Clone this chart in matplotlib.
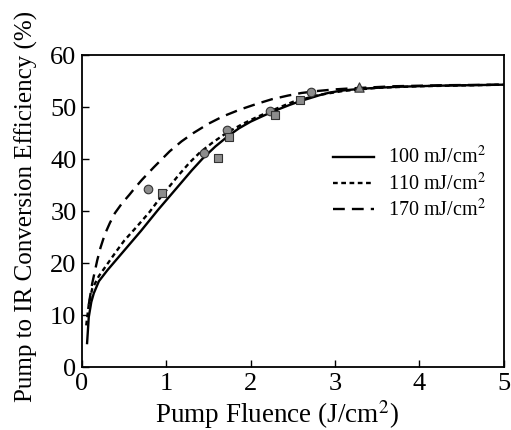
import matplotlib
matplotlib.use('Agg')
import matplotlib.pyplot as plt

plt.rcParams['font.family'] = ['Liberation Serif', 'DejaVu Serif']
plt.rcParams['mathtext.fontset'] = 'stix'

# Model curves for the three pump energies
fluence_100 = [0.06, 0.08, 0.11, 0.14, 0.2, 0.3, 0.4, 0.5, 0.6, 0.7, 0.8, 0.9,
               1.0, 1.1, 1.2, 1.3, 1.43, 1.58, 1.73, 1.86, 2.0, 2.12, 2.23,
               2.35, 2.46, 2.58, 2.7, 2.82, 2.94, 3.1, 3.3, 3.5, 3.75, 4.2, 5.0]
eff_100 = [4.6, 9.6, 12.5, 14.2, 16.5, 18.6, 20.5, 22.4, 24.3, 26.2, 28.2, 30.2,
           32.1, 34.0, 35.9, 37.8, 40.1, 42.4, 44.4, 45.9, 47.2, 48.1, 48.9,
           49.7, 50.4, 51.1, 51.7, 52.3, 52.8, 53.2, 53.5, 53.7, 53.9, 54.1, 54.3]

fluence_110 = [0.05, 0.08, 0.12, 0.2, 0.3, 0.4, 0.5, 0.65, 0.8, 0.92, 1.05, 1.15,
               1.28, 1.4, 1.55, 1.72, 1.91, 2.05, 2.23, 2.5, 2.8, 3.1, 3.5, 4.0, 5.0]
eff_110 = [8.0, 12.0, 15.0, 17.5, 19.8, 22.1, 24.3, 27.0, 29.8, 32.4, 35.0, 37.0,
           39.4, 41.3, 43.2, 45.1, 46.8, 47.9, 49.2, 51.0, 52.3, 53.1, 53.7, 54.0, 54.3]

fluence_170 = [0.08, 0.12, 0.18, 0.22, 0.27, 0.33, 0.39, 0.47, 0.56, 0.63, 0.71,
               0.85, 1.04, 1.18, 1.32, 1.5, 1.67, 1.87, 2.07, 2.25, 2.44, 2.6,
               2.8, 3.0, 3.2, 3.7, 4.3, 5.0]
eff_170 = [12.0, 16.0, 20.5, 23.0, 25.5, 27.7, 29.6, 31.4, 33.1, 34.5, 36.0,
           38.4, 41.5, 43.4, 45.0, 46.8, 48.2, 49.5, 50.6, 51.5, 52.2, 52.7,
           53.1, 53.4, 53.6, 54.0, 54.2, 54.3]

# Measured points
circ_x = [0.78, 1.44, 1.72, 2.23, 2.72]
circ_y = [34.2, 41.2, 45.6, 49.2, 52.9]
sq_x = [0.95, 1.61, 1.74, 2.29, 2.58]
sq_y = [33.5, 40.2, 44.2, 48.5, 51.3]
tri_x = [3.28]
tri_y = [53.8]

fig = plt.figure(figsize=(5.11, 4.30), dpi=100)
ax = fig.add_axes([0.1605, 0.1465, 0.8255, 0.7255])

ax.plot(fluence_100, eff_100, color='black', lw=1.7, ls='-', label='100 mJ/cm$^2$')
ax.plot(fluence_110, eff_110, color='black', lw=1.7, ls=(0, (2.0, 1.5)), label='110 mJ/cm$^2$')
ax.plot(fluence_170, eff_170, color='black', lw=1.7, ls=(0, (5, 3)), label='170 mJ/cm$^2$')

mk = dict(facecolor='#8c8c8c', edgecolor='#333333', linewidths=0.8, zorder=3)
ax.scatter(circ_x, circ_y, marker='o', s=38, **mk)
ax.scatter(sq_x, sq_y, marker='s', s=38, **mk)
ax.scatter(tri_x, tri_y, marker='^', s=45, **mk)

ax.set_xlim(0, 5)
ax.set_ylim(0, 60)
ax.set_xticks([0, 1, 2, 3, 4, 5])
ax.set_yticks([0, 10, 20, 30, 40, 50, 60])
ax.tick_params(direction='in', length=5, width=1, labelsize=19, pad=4)
for s in ax.spines.values():
    s.set_linewidth(1.3)

ax.set_xlabel('Pump Fluence (J/cm$^2$)', fontsize=19.5, va='baseline')
ax.xaxis.set_label_coords(0.463, -0.179)
ax.set_ylabel('Pump to IR Conversion Efficiency (%)', fontsize=18)
ax.yaxis.set_label_coords(-0.104, 0.514)

ax.legend(loc='upper right', bbox_to_anchor=(1.0, 0.765), frameon=False,
          fontsize=14.5, handlelength=2.0, handletextpad=0.7, labelspacing=0.2)

fig.savefig('out.png', dpi=100)
